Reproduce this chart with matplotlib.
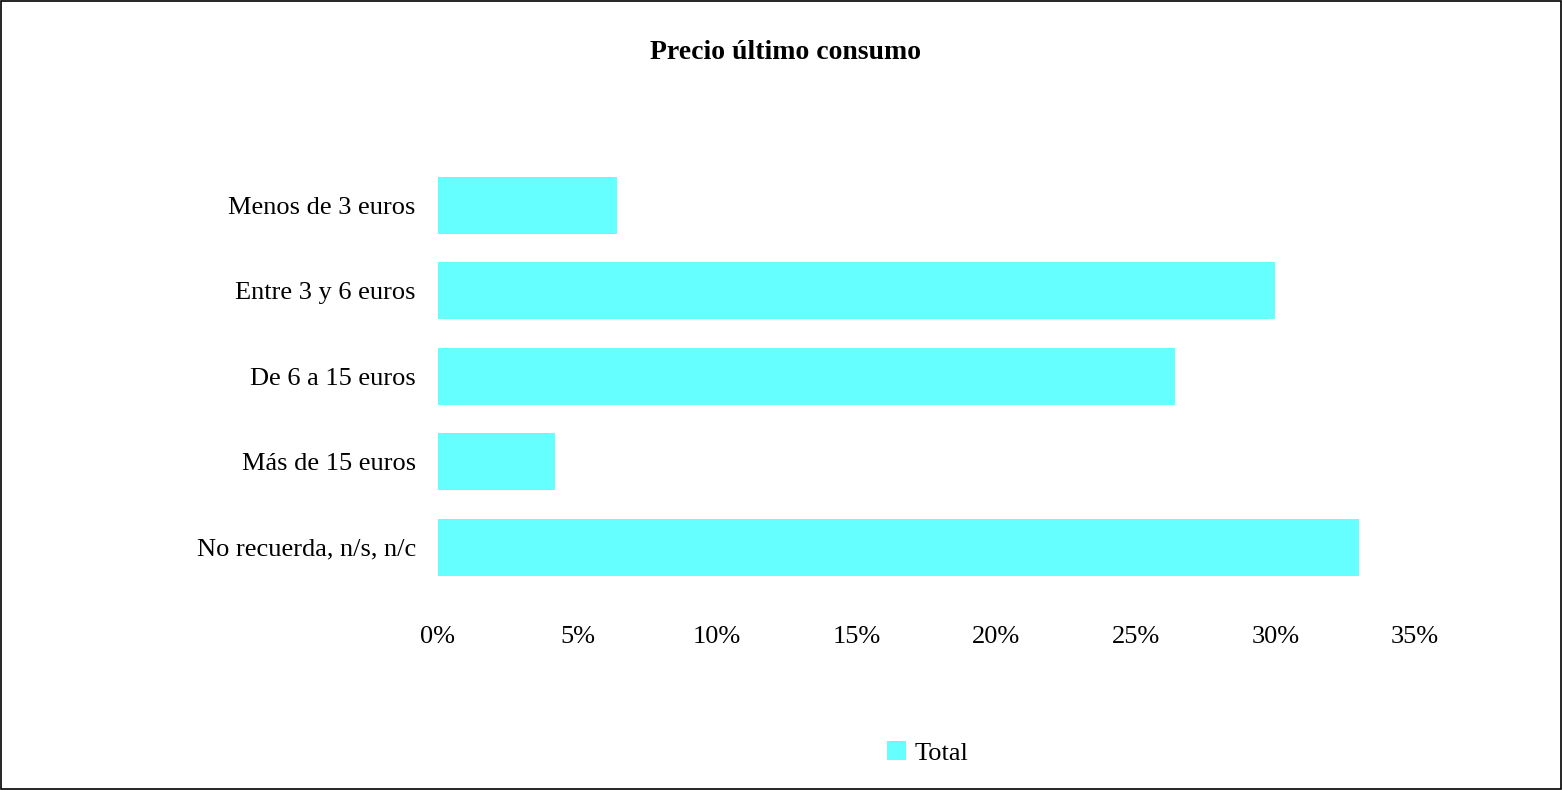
# Packages used to draw the chart
import numpy as np
import matplotlib.pyplot as plt
from matplotlib.patches import Rectangle

# Data of the chart
categorias = ['Menos de 3 euros', 'Entre 3 y 6 euros', 'De 6 a 15 euros',
              'Más de 15 euros', 'No recuerda, n/s, n/c']
total = [6.4, 30.0, 26.4, 4.2, 33.0]
ticks_x = [0, 5, 10, 15, 20, 25, 30, 35]
etiquetas_x = ['0%', '5%', '10%', '15%', '20%', '25%', '30%', '35%']

plt.rcParams['font.family'] = ['Liberation Serif', 'DejaVu Serif']

# Create the figure and the axes
fig = plt.figure(figsize=(15.62, 7.9), dpi=100)
ax = fig.add_axes([0.2804, 0.2532, 0.6255, 0.5408])

# Draw the bars, first category on top
y = np.arange(len(categorias))
ax.barh(y, total, height=0.667, color='#66FFFF', label='Total')
ax.set_ylim(len(categorias) - 0.5, -0.5)
ax.set_xlim(0, 35)

ax.set_yticks(y)
ax.set_yticklabels(categorias, fontsize=19)
ax.set_xticks(ticks_x)
ax.set_xticklabels(etiquetas_x, fontsize=19)
ax.tick_params(axis='x', length=0, pad=26)
ax.tick_params(axis='y', length=0, pad=16)

# No axis lines
for lado in ['top', 'right', 'bottom', 'left']:
    ax.spines[lado].set_visible(False)

# Title
fig.text(0.5026, 0.933, 'Precio último consumo', ha='center', va='center',
         fontsize=20, fontweight='bold')

# Legend at the bottom
fig.legend(loc='center', bbox_to_anchor=(0.594, 0.047), frameon=False,
           fontsize=19, handlelength=0.7, handleheight=0.7, handletextpad=0.35)

# Black border round the figure
fig.patches.append(Rectangle((0.0007, 0.0013), 0.9986, 0.9974, transform=fig.transFigure,
                             fill=False, edgecolor='black', linewidth=1.2))

plt.savefig('out.png', dpi=100)
